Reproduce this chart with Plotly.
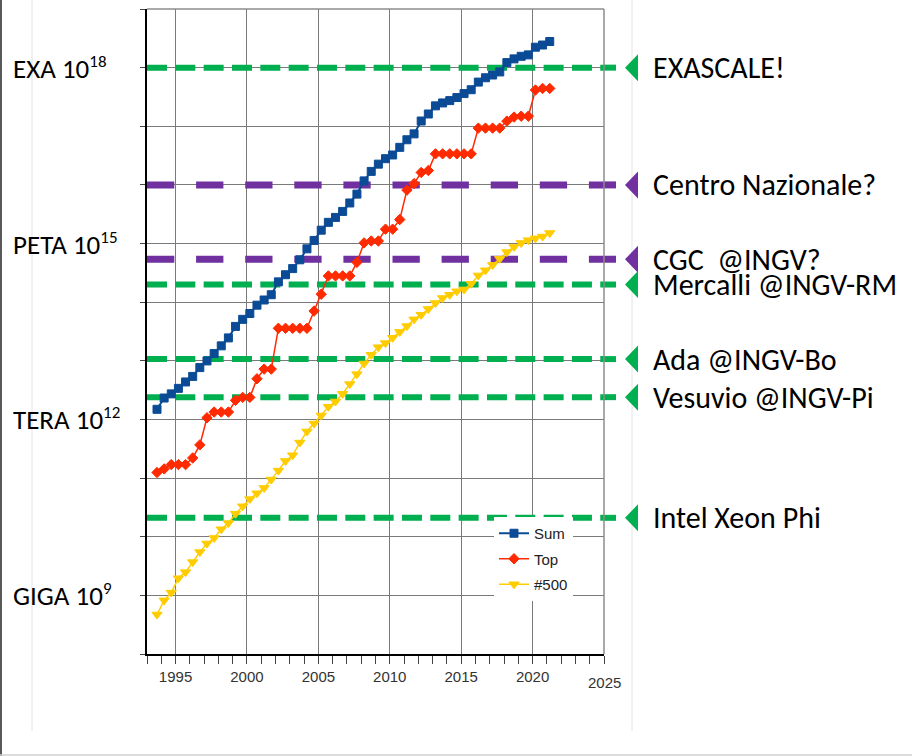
import math
import plotly.graph_objects as go

# ---------------- data ----------------
list_years = [1993.7, 1994.2, 1994.7, 1995.2, 1995.7, 1996.2, 1996.7, 1997.2, 1997.7, 1998.2,
              1998.7, 1999.2, 1999.7, 2000.2, 2000.7, 2001.2, 2001.7, 2002.2, 2002.7, 2003.2,
              2003.7, 2004.2, 2004.7, 2005.2, 2005.7, 2006.2, 2006.7, 2007.2, 2007.7, 2008.2,
              2008.7, 2009.2, 2009.7, 2010.2, 2010.7, 2011.2, 2011.7, 2012.2, 2012.7, 2013.2,
              2013.7, 2014.2, 2014.7, 2015.2, 2015.7, 2016.2, 2016.7, 2017.2, 2017.7, 2018.2,
              2018.7, 2019.2, 2019.7, 2020.2, 2020.7, 2021.2]

sum_flops = [1.49e12, 2.32e12, 2.73e12, 3.39e12, 4.36e12, 5.42e12, 7.67e12, 9.96e12, 1.33e13, 1.80e13,
             2.46e13, 3.86e13, 5.10e13, 6.41e13, 8.89e13, 1.09e14, 1.34e14, 2.22e14, 2.94e14, 3.74e14,
             5.28e14, 8.13e14, 1.13e15, 1.69e15, 2.30e15, 2.79e15, 3.53e15, 4.92e15, 6.97e15, 1.17e16,
             1.70e16, 2.26e16, 2.80e16, 3.24e16, 4.37e16, 5.89e16, 7.42e16, 1.23e17, 1.62e17, 2.23e17,
             2.50e17, 2.74e17, 3.09e17, 3.61e17, 4.20e17, 5.67e17, 6.72e17, 7.49e17, 8.45e17, 1.22e18,
             1.41e18, 1.56e18, 1.65e18, 2.23e18, 2.43e18, 2.79e18]

top_flops = [1.245e11, 1.434e11, 1.70e11, 1.70e11, 1.70e11, 2.204e11, 3.682e11, 1.068e12, 1.338e12, 1.338e12,
             1.338e12, 2.121e12, 2.379e12, 2.379e12, 4.938e12, 7.226e12, 7.226e12, 3.586e13, 3.586e13, 3.586e13,
             3.586e13, 3.586e13, 7.072e13, 1.368e14, 2.806e14, 2.806e14, 2.806e14, 2.806e14, 4.782e14, 1.026e15,
             1.105e15, 1.105e15, 1.759e15, 1.759e15, 2.566e15, 8.162e15, 1.051e16, 1.632e16, 1.759e16, 3.386e16,
             3.386e16, 3.386e16, 3.386e16, 3.386e16, 3.386e16, 9.301e16, 9.301e16, 9.301e16, 9.301e16, 1.223e17,
             1.435e17, 1.486e17, 1.486e17, 4.155e17, 4.420e17, 4.420e17]

n500_flops = [4.72e8, 8.22e8, 1.114e9, 1.96e9, 2.49e9, 3.69e9, 5.47e9, 7.67e9, 9.51e9, 1.34e10,
              1.71e10, 2.47e10, 3.31e10, 4.38e10, 5.51e10, 6.78e10, 9.43e10, 1.343e11, 1.958e11, 2.451e11,
              4.034e11, 6.24e11, 8.51e11, 1.166e12, 1.646e12, 2.026e12, 2.737e12, 4.005e12, 5.929e12, 9.0e12,
              1.264e13, 1.709e13, 2.005e13, 2.467e13, 3.112e13, 3.909e13, 5.094e13, 6.082e13, 7.65e13, 9.662e13,
              1.178e14, 1.337e14, 1.534e14, 1.647e14, 2.064e14, 2.859e14, 3.493e14, 4.322e14, 5.487e14, 7.156e14,
              8.748e14, 1.022e15, 1.142e15, 1.228e15, 1.317e15, 1.511e15]

series_names = ["Sum", "Top", "#500"]

scale_names = ["EXA 10", "PETA 10", "TERA 10", "GIGA 10"]
scale_exps = ["18", "15", "12", "9"]
scale_values = [1e18, 1e15, 1e12, 1e9]

level_labels = ["EXASCALE!", "Centro Nazionale?", "CGC\u00a0 @INGV?", "Mercalli @INGV-RM",
                "Ada @INGV-Bo", "Vesuvio @INGV-Pi", "Intel Xeon Phi"]
level_values = [1e18, 1e16, 5.4e14, 2.0e14, 1.07e13, 2.4e12, 2.1e10]
level_kinds = ["green", "purple", "purple", "green", "green", "green", "green"]

tick_years = [1995, 2000, 2005, 2010, 2015, 2020, 2025]
tick_texts = ["1995", "2000", "2005", "2010", "2015", "2020", ""]
last_tick_label = "2025"

# ---------------- layout helpers ----------------
W, H = 912, 756
ML, MR, MT, MB = 147, 308, 9, 102
PW, PH = W - ML - MR, H - MT - MB
X_RANGE = [1993, 2025]
Y_RANGE = [8, 19]
DECADE_PX = PH / (Y_RANGE[1] - Y_RANGE[0])


def pxx(px):
    return (px - ML) / PW


def pxy(py):
    return (H - MB - py) / PH


GREEN = "#00b050"
PURPLE = "#7030a0"
NARROW = "Liberation Sans Narrow, Arial Narrow, Liberation Sans, sans-serif"
CAL = "Carlito, Lato, Calibri, sans-serif"

fig = go.Figure()

styles = [
    dict(color="#0b4b96", symbol="square", size=8, lw=2),
    dict(color="#ff2a00", symbol="diamond", size=8, lw=1.5),
    dict(color="#ffcc00", symbol="triangle-down", size=9, lw=1.5),
]
for name, vals, st, grp in zip(series_names, [sum_flops, top_flops, n500_flops], styles, ["a", "b", "c"]):
    fig.add_trace(go.Scatter(
        x=list_years, y=vals, name=name, mode="lines+markers", legendgroup=grp,
        line=dict(color=st["color"], width=st["lw"]),
        marker=dict(symbol=st["symbol"], size=st["size"], color=st["color"],
                    line=dict(color=st["color"], width=1)),
    ))

shapes = []
tri_half = 10 ** (13.5 / DECADE_PX)  # half-height of the level triangles, as a factor on the log axis
for v, k in zip(level_values, level_kinds):
    col = GREEN if k == "green" else PURPLE
    if k == "green":
        ln = dict(color=GREEN, width=6, dash="20px,8.33px")
        wd = 6
    else:
        ln = dict(color=PURPLE, width=7, dash="27.3px,21.8px")
        wd = 7
    # dashed level line inside the plot (above grid, below data)
    shapes.append(dict(type="line", xref="x", yref="y", x0=X_RANGE[0], x1=X_RANGE[1], y0=v, y1=v,
                       line=ln, layer="between"))
    # short continuation past the plot frame
    shapes.append(dict(type="line", xref="paper", yref="y", x0=1, x1=pxx(616), y0=v, y1=v,
                       line=dict(color=col, width=wd)))
    path = "M {:.6f},{:.6e} L {:.6f},{:.6e} L {:.6f},{:.6e} Z".format(
        pxx(625), v, pxx(638), v * tri_half, pxx(638), v / tri_half)
    shapes.append(dict(type="path", xref="paper", yref="y", path=path,
                       fillcolor=col, line=dict(width=0)))

# plot frame top/right
shapes.append(dict(type="line", xref="paper", yref="paper", x0=0, x1=1, y0=1, y1=1,
                   line=dict(color="#8c8c8c", width=1.5)))
shapes.append(dict(type="line", xref="paper", yref="paper", x0=1, x1=1, y0=0, y1=1,
                   line=dict(color="#8c8c8c", width=1.5)))
# page decorations
shapes.append(dict(type="line", xref="paper", yref="paper", x0=pxx(1), x1=pxx(1), y0=pxy(0), y1=pxy(756),
                   line=dict(color="#595959", width=2)))
for xx in (32, 632):
    shapes.append(dict(type="line", xref="paper", yref="paper", x0=pxx(xx), x1=pxx(xx), y0=pxy(0), y1=pxy(731),
                       line=dict(color="#e4e4e4", width=1), layer="below"))
shapes.append(dict(type="line", xref="paper", yref="paper", x0=pxx(0), x1=pxx(912), y0=pxy(755), y1=pxy(755),
                   line=dict(color="#d0d0d0", width=1.5)))

annotations = []
for name, ex, v in zip(scale_names, scale_exps, scale_values):
    lab = name + "<sup><span style='font-size:17px'>" + ex + "</span></sup>"
    annotations.append(dict(text=lab, xref="paper", yref="y", x=pxx(11), y=math.log10(v),
                            xanchor="left", yanchor="middle", showarrow=False,
                            font=dict(family=CAL, size=27, color="black")))
for lab, v in zip(level_labels, level_values):
    annotations.append(dict(text=lab, xref="paper", yref="y", x=pxx(651), y=math.log10(v),
                            xanchor="left", yanchor="middle", showarrow=False,
                            font=dict(family=CAL, size=30, color="black")))
annotations.append(dict(text=last_tick_label, xref="x", yref="paper", x=tick_years[-1], y=pxy(683),
                        xanchor="center", yanchor="middle", showarrow=False,
                        font=dict(family=NARROW, size=15, color="#333333")))

fig.update_layout(
    width=W, height=H,
    margin=dict(l=ML, r=MR, t=MT, b=MB),
    paper_bgcolor="white", plot_bgcolor="white",
    shapes=shapes, annotations=annotations,
    showlegend=True,
    legend=dict(x=pxx(494), y=pxy(517), xanchor="left", yanchor="top",
                bgcolor="white", borderwidth=0, tracegroupgap=3,
                font=dict(family=NARROW, size=15, color="#222222")),
    xaxis=dict(range=X_RANGE, tickmode="array", tickvals=tick_years, ticktext=tick_texts,
               ticks="outside", ticklen=8, tickcolor="#444444", tickwidth=1,
               showgrid=True, gridcolor="#7a7a7a", gridwidth=1, zeroline=False,
               showline=True, linecolor="black", linewidth=2,
               minor=dict(tickmode="linear", tick0=1993, dtick=1, ticks="outside", ticklen=8,
                          tickcolor="#444444", showgrid=False),
               tickfont=dict(family=NARROW, size=15, color="#333333")),
    yaxis=dict(type="log", range=Y_RANGE, dtick=1, showticklabels=False,
               ticks="outside", ticklen=5, tickcolor="#444444",
               showgrid=True, gridcolor="#7a7a7a", gridwidth=1, zeroline=False,
               showline=True, linecolor="black", linewidth=2),
)

fig.write_html("out.html", config={"displayModeBar": False},
               post_script="document.body.style.margin='0';")
